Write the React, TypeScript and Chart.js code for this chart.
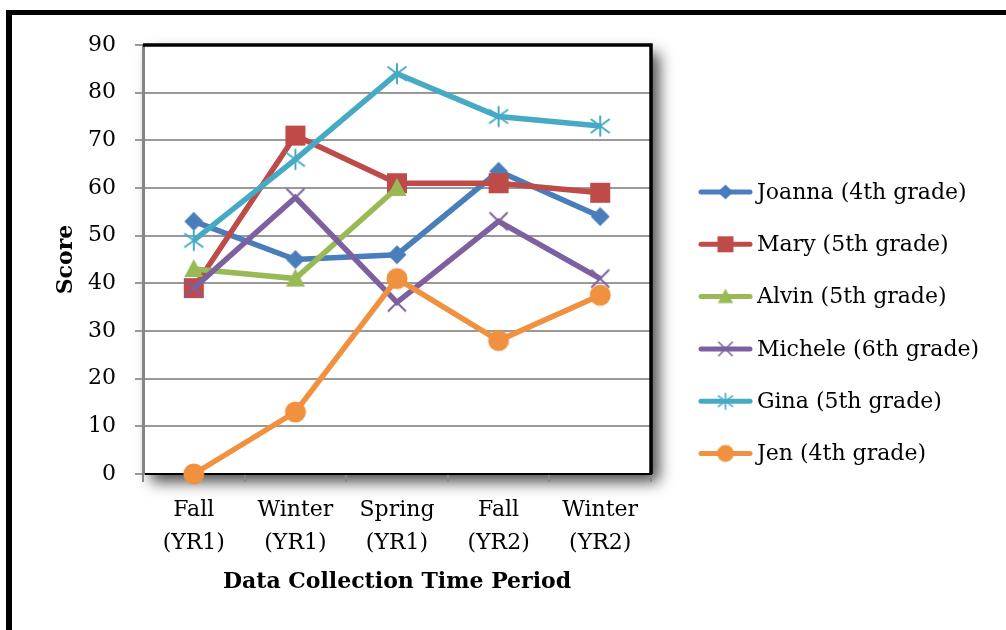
import React, { useEffect, useRef } from "react";
import { Chart, registerables } from "chart.js";

Chart.register(...registerables);

// ---- data ----
const categories: string[][] = [
  ["Fall", "(YR1)"],
  ["Winter", "(YR1)"],
  ["Spring", "(YR1)"],
  ["Fall", "(YR2)"],
  ["Winter", "(YR2)"],
];
const seriesNames = [
  "Joanna (4th grade)",
  "Mary (5th grade)",
  "Alvin (5th grade)",
  "Michele (6th grade)",
  "Gina (5th grade)",
  "Jen (4th grade)",
];
const joanna = [53, 45, 46, 63.5, 54];
const mary = [39, 71, 61, 61, 59];
const alvin = [43, 41, 60, null, null];
const michele = [39, 58, 36, 53, 41];
const gina = [49, 66, 84, 75, 73];
const jen = [0, 13, 41, 28, 37.5];
const yMin = 0;
const yMax = 90;
const yStep = 10;
const yTitle = "Score";
const xTitle = "Data Collection Time Period";

const seriesValues = [joanna, mary, alvin, michele, gina, jen];
const seriesColors = ["#4A7EBB", "#BE4B48", "#98B954", "#7D60A0", "#46AAC5", "#F0913F"];
const seriesMarkers = ["diamond", "square", "triangle", "x", "star", "circle"];

const FONT = '"DejaVu Serif", serif';

function makeMarker(kind: string, color: string, scale: number): HTMLCanvasElement {
  const s = 30;
  const c = document.createElement("canvas");
  c.width = s;
  c.height = s;
  const ctx = c.getContext("2d")!;
  ctx.translate(s / 2, s / 2);
  ctx.scale(scale, scale);
  ctx.fillStyle = color;
  ctx.strokeStyle = color;
  ctx.lineCap = "butt";
  switch (kind) {
    case "diamond":
      ctx.beginPath();
      ctx.moveTo(0, -9.5);
      ctx.lineTo(9.5, 0);
      ctx.lineTo(0, 9.5);
      ctx.lineTo(-9.5, 0);
      ctx.closePath();
      ctx.fill();
      break;
    case "square":
      ctx.fillRect(-10, -10, 20, 20);
      break;
    case "triangle":
      ctx.beginPath();
      ctx.moveTo(0, -10);
      ctx.lineTo(9.5, 8);
      ctx.lineTo(-9.5, 8);
      ctx.closePath();
      ctx.fill();
      break;
    case "x":
      ctx.lineWidth = 2;
      ctx.beginPath();
      ctx.moveTo(-9, -9);
      ctx.lineTo(9, 9);
      ctx.moveTo(-9, 9);
      ctx.lineTo(9, -9);
      ctx.stroke();
      break;
    case "star":
      ctx.lineWidth = 2;
      ctx.beginPath();
      ctx.moveTo(0, -10.5);
      ctx.lineTo(0, 10.5);
      ctx.moveTo(-9.5, -7);
      ctx.lineTo(9.5, 7);
      ctx.moveTo(-9.5, 7);
      ctx.lineTo(9.5, -7);
      ctx.stroke();
      break;
    case "circle":
    default:
      ctx.beginPath();
      ctx.arc(0, 0, 10.5, 0, Math.PI * 2);
      ctx.fill();
      break;
  }
  return c;
}

export default function App() {
  const ref = useRef<HTMLCanvasElement>(null);

  useEffect(() => {
    const canvas = ref.current!;
    const markers = seriesMarkers.map((m, i) => makeMarker(m, seriesColors[i], 1));
    const legendMarkers = seriesMarkers.map((m, i) => makeMarker(m, seriesColors[i], 0.8));

    const framePlugin = {
      id: "frame",
      beforeDraw(chart: any) {
        const { ctx, chartArea: a } = chart;
        ctx.save();
        ctx.fillStyle = "#fff";
        ctx.fillRect(0, 0, chart.width, chart.height);
        // outer black frame (left + top)
        ctx.fillStyle = "#000";
        ctx.fillRect(6, 10, chart.width, 5);
        ctx.fillRect(6, 10, 6, chart.height);
        // plot area with drop shadow
        ctx.shadowColor = "rgba(0,0,0,0.7)";
        ctx.shadowBlur = 14;
        ctx.shadowOffsetX = 8;
        ctx.shadowOffsetY = 8;
        ctx.fillStyle = "#fff";
        ctx.fillRect(a.left, a.top, a.right - a.left, a.bottom - a.top);
        ctx.restore();
      },
      beforeDatasetsDraw(chart: any) {
        const { ctx, chartArea: a } = chart;
        ctx.save();
        ctx.strokeStyle = "#000";
        ctx.lineWidth = 3.5;
        ctx.beginPath();
        ctx.moveTo(a.left, a.top);
        ctx.lineTo(a.right, a.top);
        ctx.lineTo(a.right, a.bottom);
        ctx.stroke();
        ctx.restore();
      },
      afterDraw(chart: any) {
        const { ctx, chartArea: a } = chart;
        const x0 = a.right + 47;
        ctx.save();
        chart.data.datasets.forEach((ds: any, i: number) => {
          const y = a.top + 147 + i * 52.3;
          ctx.strokeStyle = ds.borderColor;
          ctx.lineWidth = 5;
          ctx.lineCap = "round";
          ctx.beginPath();
          ctx.moveTo(x0 + 3, y);
          ctx.lineTo(x0 + 52, y);
          ctx.stroke();
          const img = legendMarkers[i];
          ctx.drawImage(img, x0 + 27.5 - img.width / 2, y - img.height / 2);
          ctx.fillStyle = "#000";
          ctx.font = "22px " + FONT;
          ctx.textBaseline = "middle";
          ctx.textAlign = "left";
          ctx.fillText(ds.label, x0 + 59, y + 1);
        });
        ctx.restore();
      },
    };

    const chart = new Chart(canvas, {
      type: "line",
      data: {
        labels: categories,
        datasets: seriesValues.map((vals, i) => ({
          label: seriesNames[i],
          data: vals,
          borderColor: seriesColors[i],
          backgroundColor: seriesColors[i],
          borderWidth: 5.5,
          pointStyle: markers[i] as any,
          pointRadius: 10,
          pointHoverRadius: 10,
          tension: 0,
          spanGaps: false,
          clip: false as any,
          order: seriesValues.length - i,
        })),
      },
      options: {
        responsive: false,
        animation: false,
        devicePixelRatio: 1,
        layout: { padding: { left: 0, top: 45, right: 355, bottom: 0 } },
        plugins: {
          legend: { display: false },
          tooltip: { enabled: false },
        },
        scales: {
          x: {
            offset: true,
            afterFit: (s: any) => {
              s.height = 156;
            },
            grid: {
              offset: true,
              drawOnChartArea: false,
              drawTicks: true,
              tickLength: 8,
              color: "#8a8a8a",
              lineWidth: 2,
            },
            border: { color: "#000", width: 2 },
            ticks: {
              color: "#000",
              padding: 12,
              maxRotation: 0,
              autoSkip: false,
              font: { family: FONT, size: 22, lineHeight: 1.5 },
            },
            title: {
              display: true,
              text: xTitle,
              color: "#000",
              font: { family: FONT, size: 22, weight: "bold", lineHeight: 1.2 },
              padding: { top: 0, bottom: 35 },
            },
          },
          y: {
            min: yMin,
            max: yMax,
            afterFit: (s: any) => {
              s.width = 143;
            },
            ticks: {
              stepSize: yStep,
              color: "#000",
              padding: 19,
              font: { family: FONT, size: 22 },
            },
            grid: {
              color: "#999999",
              lineWidth: 2,
              tickLength: 8,
            },
            border: { color: "#858585", width: 3 },
            title: {
              display: true,
              text: yTitle,
              color: "#000",
              font: { family: FONT, size: 22, weight: "bold", lineHeight: 1.2 },
              padding: { top: 53, bottom: 0 },
            },
          },
        },
      },
      plugins: [framePlugin],
    });

    return () => chart.destroy();
  }, []);

  return (
    <div style={{ position: "fixed", left: 0, top: 0, width: 1006, height: 630, background: "#fff" }}>
      <canvas ref={ref} width={1006} height={630} style={{ display: "block" }} />
    </div>
  );
}
